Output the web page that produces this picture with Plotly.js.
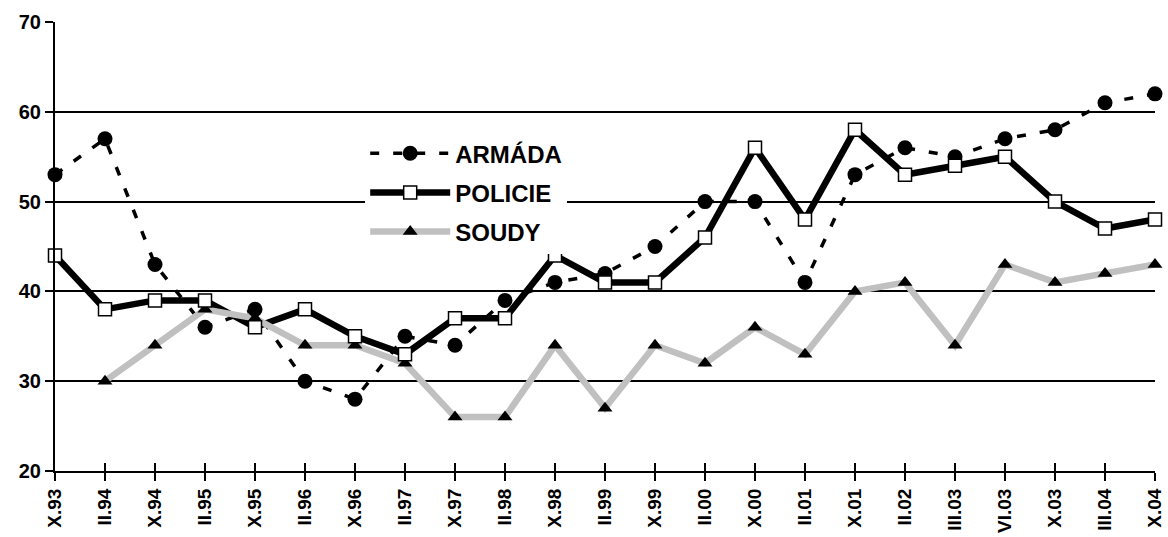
<!DOCTYPE html>
<html>
<head>
<meta charset="utf-8">
<script src="https://cdn.plot.ly/plotly-3.0.1.min.js"></script>
<style>html,body{margin:0;padding:0;background:#fff;}#chart{width:1168px;height:537px;}</style>
</head>
<body>
<div id="chart"></div>
<script>
const categories = ["X.93","II.94","X.94","II.95","X.95","II.96","X.96","II.97","X.97","II.98","X.98","II.99","X.99","II.00","X.00","II.01","X.01","II.02","III.03","VI.03","X.03","III.04","X.04"];
const armada  = [53,57,43,36,38,30,28,35,34,39,41,42,45,50,50,41,53,56,55,57,58,61,62];
const policie = [44,38,39,39,36,38,35,33,37,37,44,41,41,46,56,48,58,53,54,55,50,47,48];
const soudy   = [null,30,34,38,37,34,34,32,26,26,34,27,34,32,36,33,40,41,34,43,41,42,43];
const yTicks = [20,30,40,50,60,70];

const FONT = "Arial, 'Liberation Sans', sans-serif";

const styles = {
  ARMÁDA: {line: {color: "#000", width: 3.5, dash: "9px,14px"},
           marker: {symbol: "circle", size: 15, color: "#000"}},
  POLICIE: {line: {color: "#000", width: 6.5},
            marker: {symbol: "square", size: 13, color: "#fff", line: {color: "#000", width: 1.5}}},
  SOUDY: {line: {color: "#c0c0c0", width: 6.5},
          marker: {symbol: "triangle-up", size: 13, color: "#000"}}
};
const series = {ARMÁDA: armada, POLICIE: policie, SOUDY: soudy};

function lineTrace(name) {
  return {x: categories, y: series[name], type: "scatter", mode: "lines", name: name,
          line: styles[name].line, showlegend: false, cliponaxis: false, hoverinfo: "skip"};
}
function markerTrace(name) {
  return {x: categories, y: series[name], type: "scatter", mode: "markers", name: name,
          marker: styles[name].marker, showlegend: false, cliponaxis: false};
}
function legendTrace(name, rank) {
  return {x: [categories[0]], y: [null], type: "scatter", mode: "lines+markers", name: name,
          line: styles[name].line, marker: styles[name].marker,
          showlegend: true, legendrank: rank, legendgroup: name};
}

const traces = [
  lineTrace("ARMÁDA"), lineTrace("POLICIE"), lineTrace("SOUDY"),
  markerTrace("SOUDY"), markerTrace("ARMÁDA"), markerTrace("POLICIE"),
  legendTrace("ARMÁDA", 1), legendTrace("POLICIE", 2), legendTrace("SOUDY", 3),
  {x: categories, y: soudy, xaxis: "x2", type: "scatter", mode: "markers",
   marker: {opacity: 0}, showlegend: false, hoverinfo: "skip"}
];

const layout = {
  width: 1168, height: 537,
  margin: {l: 55, r: 13, t: 22, b: 66},
  paper_bgcolor: "#fff", plot_bgcolor: "#fff",
  font: {family: FONT, size: 18, color: "#000", weight: "bold"},
  showlegend: true,
  legend: {
    x: 0.282, xanchor: "left", y: 0.757, yanchor: "top",
    bgcolor: "#fff", borderwidth: 0,
    font: {family: FONT, size: 24, color: "#000", weight: "bold"},
    itemwidth: 80, tracegroupgap: 5, traceorder: "grouped"
  },
  xaxis: {
    type: "category", range: [0, 22],
    showline: true, linecolor: "#000", linewidth: 2,
    ticks: "outside", ticklen: 8, tickwidth: 2, tickcolor: "#000",
    tickangle: -90, showgrid: false, zeroline: false,
    tickfont: {family: FONT, size: 19, color: "#000", weight: "bold"}
  },
  xaxis2: {
    type: "category", range: [0, 22], overlaying: "x", side: "bottom", matches: "x",
    showline: false, ticks: "inside", ticklen: 8, tickwidth: 2, tickcolor: "#000",
    showticklabels: false, showgrid: false, zeroline: false
  },
  yaxis: {
    range: [20, 70], tickvals: yTicks, ticktext: yTicks.map(String),
    showline: true, linecolor: "#000", linewidth: 2,
    ticks: "outside", ticklen: 8, tickwidth: 2, tickcolor: "#000",
    showgrid: true, gridcolor: "#000", gridwidth: 2, zeroline: false,
    tickfont: {family: FONT, size: 20, color: "#000", weight: "bold"}
  }
};

Plotly.newPlot("chart", traces, layout, {displayModeBar: false, staticPlot: true});
</script>
</body>
</html>
